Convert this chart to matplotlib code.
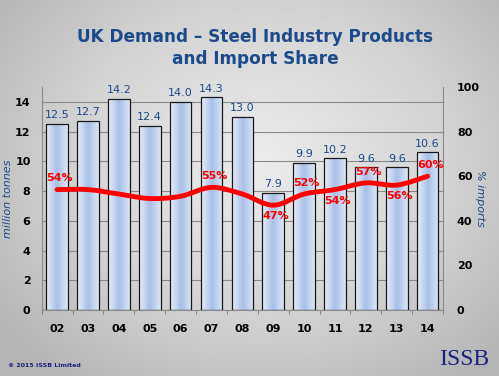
import numpy as np
import matplotlib
matplotlib.use("Agg")
import matplotlib.pyplot as plt
from matplotlib.colors import LinearSegmentedColormap
from matplotlib.path import Path
from matplotlib.patches import PathPatch

# data
years = ["02", "03", "04", "05", "06", "07", "08", "09", "10", "11", "12", "13", "14"]
demand = [12.5, 12.7, 14.2, 12.4, 14.0, 14.3, 13.0, 7.9, 9.9, 10.2, 9.6, 9.6, 10.6]
import_share = [54, 54, 52, 50, 51, 55, 52, 47, 52, 54, 57, 56, 60]
# which share points carry a label, and whether above (+1) or below (-1)
share_label_pos = {0: 1, 5: 1, 7: -1, 8: 1, 9: -1, 10: 1, 11: -1, 12: 1}

NAVY = "#1c4a8a"
RED = "#ff0000"

fig = plt.figure(figsize=(4.99, 3.76), dpi=100)

# grey radial background
bg = fig.add_axes([0, 0, 1, 1], zorder=-10)
yy, xx = np.mgrid[0:376, 0:499]
r = np.sqrt(((xx - 260) / 340.0) ** 2 + ((yy - 160) / 280.0) ** 2)
bg_cmap = LinearSegmentedColormap.from_list("bg", ["#ececec", "#d6d6d6", "#b4b4b4"])
bg.imshow(np.clip(r, 0, 1), cmap=bg_cmap, aspect="auto", interpolation="bilinear")
bg.axis("off")

ax = fig.add_axes([0.0836, 0.1755, 0.8042, 0.5931])
ax.patch.set_alpha(0)
x = np.arange(len(years))

bars = ax.bar(x, demand, width=0.7, facecolor="none", edgecolor="#1a1a1a",
              linewidth=0.9, zorder=3)
bar_cmap = LinearSegmentedColormap.from_list(
    "bar", ["#e8eef8", "#c9d7ef", "#a9bfe6", "#c3d3ee", "#dce5f4"])
grad = np.linspace(0, 1, 64).reshape(1, -1)
for b in bars:
    x0, w, h = b.get_x(), b.get_width(), b.get_height()
    im = ax.imshow(grad, cmap=bar_cmap, extent=[x0, x0 + w, 0, h],
                   aspect="auto", zorder=2, interpolation="bilinear")
    im.set_clip_path(b)
    ax.text(b.get_x() + w / 2, h + 0.25, f"{h:.1f}", ha="center", va="bottom",
            fontsize=8, color=NAVY, zorder=5)

ax.set_xlim(-0.5, len(years) - 0.5)
ax.set_ylim(0, 15)
ax.set_yticks(range(0, 15, 2))
ax.set_xticks(x)
ax.set_xticklabels(years)
ax.set_xticks(np.arange(-0.5, len(years), 1), minor=True)
ax.tick_params(axis="x", which="major", length=0, pad=10)
ax.tick_params(axis="x", which="minor", length=3, color="#777777")
ax.tick_params(axis="y", length=0, pad=8)
for lab in ax.get_xticklabels() + ax.get_yticklabels():
    lab.set_fontweight("bold")
    lab.set_fontsize(8)
ax.grid(axis="y", color="#8a8a8a", linewidth=0.8, zorder=0)
ax.set_axisbelow(True)
ax.spines["top"].set_visible(False)
for s in ["left", "right", "bottom"]:
    ax.spines[s].set_color("#8a8a8a")
ax.set_ylabel("million tonnes", fontsize=8, style="italic", color=NAVY, va="center")
ax.yaxis.set_label_coords(-0.083, 0.5)

ax2 = ax.twinx()
ax2.set_ylim(0, 100)
ax2.set_yticks(range(0, 101, 20))
ax2.tick_params(axis="y", length=0, pad=10)
for lab in ax2.get_yticklabels():
    lab.set_fontweight("bold")
    lab.set_fontsize(8)
for s in ax2.spines.values():
    s.set_visible(False)
ax2.set_ylabel("% imports", fontsize=8, style="italic", color=NAVY, rotation=-90,
               va="center")
ax2.yaxis.set_label_coords(1.092, 0.5)

# smooth import-share line (Catmull-Rom style bezier through the points)
pts = np.column_stack([x, import_share]).astype(float)
verts = [tuple(pts[0])]
codes = [Path.MOVETO]
for i in range(len(pts) - 1):
    p0 = pts[max(i - 1, 0)]
    p1, p2 = pts[i], pts[i + 1]
    p3 = pts[min(i + 2, len(pts) - 1)]
    c1 = p1 + (p2 - p0) / 6.0
    c2 = p2 - (p3 - p1) / 6.0
    verts += [tuple(c1), tuple(c2), tuple(p2)]
    codes += [Path.CURVE4] * 3
ax2.add_patch(PathPatch(Path(verts, codes), facecolor="none", edgecolor=RED,
                        linewidth=3.5, capstyle="round", zorder=6))

for i, side in share_label_pos.items():
    ax2.annotate(f"{import_share[i]}%", (x[i], import_share[i]),
                 xytext=(2, 8 * side), textcoords="offset points",
                 ha="center", va="center", fontsize=8, color=RED,
                 fontweight="bold", zorder=7)

fig.text(0.512, 0.872, "UK Demand \u2013 Steel Industry Products\nand Import Share",
         ha="center", va="center", fontsize=12.2, fontweight="bold",
         color=NAVY, linespacing=1.3)
fig.text(0.016, 0.027, "\u00a9 2015 ISSB Limited", fontsize=4.5, color="#1a237e",
         fontweight="bold", va="center")
fig.text(0.98, 0.045, "ISSB", fontsize=17, color="#1a237e", family="Liberation Serif",
         ha="right", va="center")

fig.savefig("out.png", dpi=100)
